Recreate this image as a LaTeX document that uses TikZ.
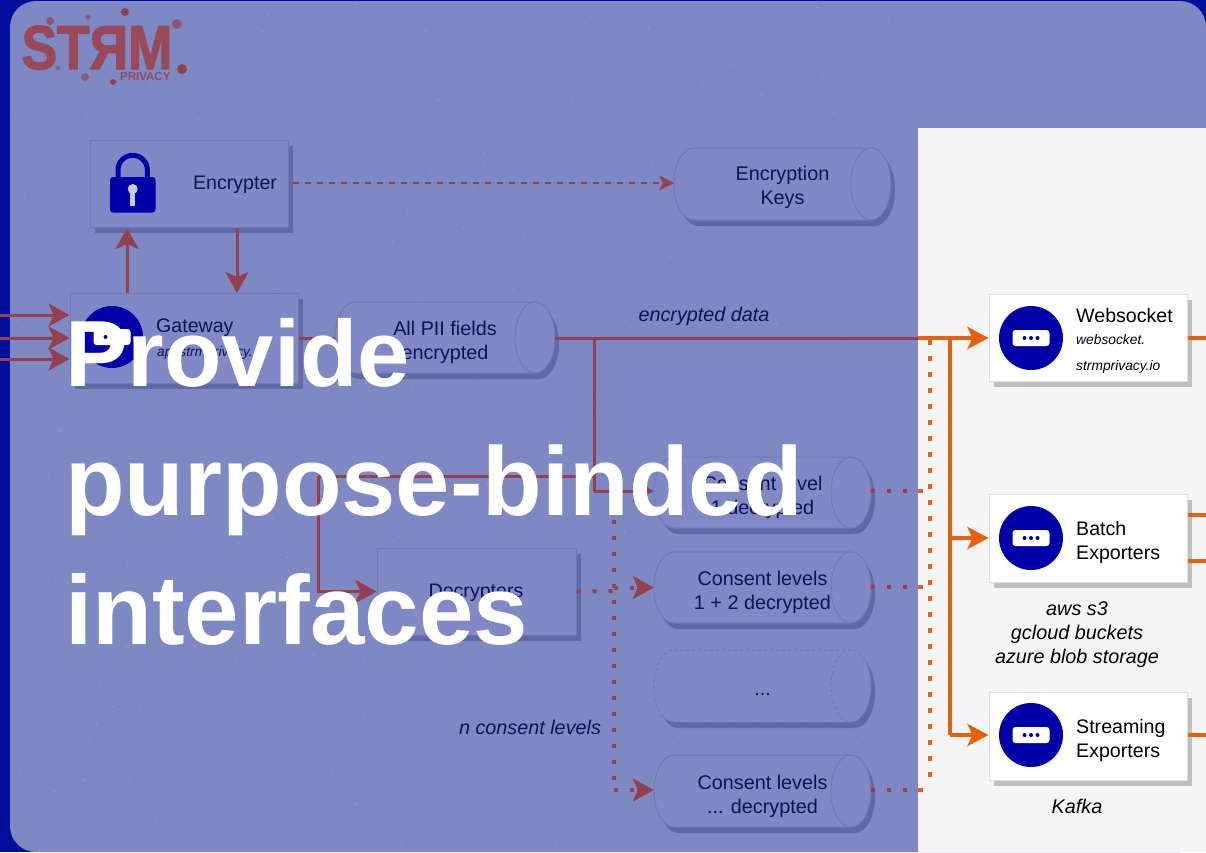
\documentclass[tikz,border=0pt]{standalone}
\usepackage{fontspec}
\setmainfont{Liberation Sans}
\newfontfamily\logofont[FakeBold=2.2]{Liberation Sans}
\usetikzlibrary{arrows.meta,shadows,calc}
\definecolor{bgblue}{HTML}{00109C}
\definecolor{panelblue}{HTML}{7E88C2}
\definecolor{boxblue}{HTML}{8089C6}
\definecolor{edgeblue}{HTML}{7079B8}
\definecolor{shadeblue}{HTML}{6068A8}
\definecolor{navy}{HTML}{0C1458}
\definecolor{wine}{HTML}{94404F}
\definecolor{orangeline}{HTML}{EA5F0E}
\definecolor{paper}{HTML}{F5F5F5}
\definecolor{iconblue}{HTML}{0000A8}
\tikzset{
  dimbox/.style={draw=edgeblue,fill=boxblue,line width=1pt,inner sep=0pt,text=navy,
    general shadow={shadow xshift=4.5pt,shadow yshift=-6pt,fill=shadeblue}},
  lightbox/.style={draw=black!12,fill=white,line width=1pt,inner sep=0pt,
    general shadow={shadow xshift=4.5pt,shadow yshift=-6pt,fill=black!25}},
  storebody/.style={draw=edgeblue,fill=boxblue,line width=1pt},
  storeframe/.style={inner sep=0pt,rectangle},
  storetext/.style={inner sep=0pt,text=navy,align=center,font=\fontsize{19.8}{24}\selectfont},
  lbl/.style={inner sep=0pt,font=\fontsize{19.6}{24}\selectfont,align=left},
  smalllbl/.style={inner sep=0pt,font=\fontsize{13.8}{26}\selectfont\itshape,align=left},
  note/.style={inner sep=0pt,font=\fontsize{19.8}{24}\selectfont\itshape,align=center},
  redline/.style={draw=wine,line width=3pt},
  orangeln/.style={draw=orangeline,line width=4pt},
  redtip/.style={-{Stealth[length=21pt,width=23pt,inset=5pt,fill=wine]}},
  orangetip/.style={-{Stealth[length=21pt,width=22pt,inset=5pt,fill=orangeline]}},
  reddots/.style={draw=wine,line width=4pt,dash pattern=on 4pt off 12pt},
  orangedots/.style={draw=orangeline,line width=4pt,dash pattern=on 5pt off 11pt},
  iconcircle/.style={circle,fill=iconblue,inner sep=0pt},
  pill/.style={rectangle,rounded corners=3pt,fill=white,inner sep=0pt,minimum width=37pt,minimum height=16pt},
  logodot/.style={circle,inner sep=0pt}
}
\newcommand{\svcicon}[4]{%
  \node[iconcircle,minimum size=#4pt] (#1) at (#2,#3) {};
  \node[pill] (#1p) at (#2,#3) {};
  \fill[iconblue] ($(#1p)+(-6.5,0)$) circle (2pt) (#1p) circle (2pt) ($(#1p)+(6.5,0)$) circle (2pt);
}
\newcommand{\stoff}{5}
% name, x1, y1, x2, y2, line style, text
\newcommand{\storage}[7]{%
  \pgfmathsetmacro{\yr}{(#5-#3)/2}
  \pgfmathsetmacro{\xa}{#2+20}
  \pgfmathsetmacro{\xb}{#4-20}
  \pgfmathsetmacro{\xc}{(#2+#4)/2}
  \pgfmathsetmacro{\yc}{(#3+#5)/2}
  \fill[shadeblue,shift={(4,6)}] (\xa,#3) -- (\xb,#3) arc[start angle=90,end angle=-90,x radius=20pt,y radius=\yr pt] -- (\xa,#5) arc[start angle=270,end angle=90,x radius=20pt,y radius=\yr pt] -- cycle;
  \path[storebody,#6] (\xa,#3) -- (\xb,#3) arc[start angle=90,end angle=-90,x radius=20pt,y radius=\yr pt] -- (\xa,#5) arc[start angle=270,end angle=90,x radius=20pt,y radius=\yr pt] -- cycle;
  \draw[draw=edgeblue,line width=1pt,#6] (\xb,#3) arc[start angle=90,end angle=270,x radius=20pt,y radius=\yr pt];
  \node[storeframe,minimum width=#4pt-#2pt,minimum height=#5pt-#3pt] (#1) at (\xc,\yc) {};
  \node[storetext] (#1t) at (\xc,\yc+\stoff) {#7};
}
\begin{document}
\begin{tikzpicture}[x=1pt,y=-1pt]
\useasboundingbox (0,0) rectangle (1206,852);
\fill[bgblue] (0,0) rectangle (1206,852);
\fill[panelblue,rounded corners=26pt] (10,1) rectangle (1206,852);
\fill[paper] (918,128) rectangle (1206,852);
% faint speckle of the starry backdrop
\pgfmathsetseed{7}
\foreach \i in {1,...,420}{
  \pgfmathsetmacro{\sx}{14+rnd*900}\pgfmathsetmacro{\sy}{4+rnd*844}\pgfmathsetmacro{\sr}{0.4+rnd*0.6}
  \fill[white,opacity=0.16] (\sx,\sy) circle (\sr pt);
}
% logo
\node[inner sep=0pt,text=wine!95!white,font=\fontsize{62}{62}\selectfont\logofont\bfseries,xscale=0.86,anchor=base] (logo) at (97,69) {STЯM};
\node[inner sep=0pt,text=wine!85!panelblue,font=\fontsize{11.5}{12}\selectfont\bfseries,anchor=base west] (logosub) at (120,80) {PRIVACY};
\foreach \n/\x/\y/\d/\c in {a/125/12/8/wine,b/50/21/8/wine!70!panelblue,c/88/17/5/wine!60!panelblue,d/177/24/10/wine!70!panelblue,e/182/69/10/wine,f/58/68/5/wine!50!panelblue,g/85/77/8/wine!60!panelblue,h/113/82/6/wine}
  \node[logodot,fill=\c,minimum size=\d pt] (dot\n) at (\x,\y) {};
% nodes on the dim side
\node[dimbox,minimum width=198pt,minimum height=87pt] (enc) at (189,183.5) {};
\node[lbl,text=navy] (enctext) at (235,185) {Encrypter};
\renewcommand{\stoff}{3.5}
\storage{keys}{674}{148}{891}{220}{}{Encryption\\Keys}
\renewcommand{\stoff}{5}
\node[dimbox,minimum width=228pt,minimum height=90pt] (gw) at (184,338) {};
\node[lbl,text=navy,anchor=west] (gwtext) at (156,328) {Gateway};
\node[smalllbl,text=navy,anchor=west] (gwsub) at (157,353) {api.strmprivacy.};
\storage{pii}{335}{302}{555}{373}{}{All PII fields\\encrypted}
\node[dimbox,minimum width=199pt,minimum height=87pt] (dec) at (476.5,591.5) {};
\node[lbl,text=navy] (dectext) at (476,593) {Decrypters};
\storage{c1}{654}{457}{871}{528}{}{Consent level\\1 decrypted}
\storage{c2}{654}{552}{871}{623}{}{Consent levels\\1 + 2 decrypted}
\storage{c3}{654}{650}{871}{722}{dashed}{\strut ...}
\storage{c4}{654}{755}{871}{827}{}{Consent levels\\... decrypted}
\node[note,text=navy] (ltenc) at (704,316) {encrypted data};
\node[note,text=navy] (ltn) at (530,727) {n consent levels};
% lock icon
\fill[iconblue,rounded corners=3pt] (110,177) rectangle (155.5,212.5);
\draw[iconblue,line width=5pt] (118,179) -- (118,170) arc[start angle=180,end angle=0,radius=14.7pt] -- (147.4,179);
\fill[boxblue!45!white] (132.7,189) circle (5pt);
\fill[boxblue!45!white] (130.2,189) rectangle (135.2,206);
% nodes on the light side
\node[lightbox,minimum width=198pt,minimum height=87pt] (ws) at (1088,337.5) {};
\node[lightbox,minimum width=198pt,minimum height=88pt] (batch) at (1088,538) {};
\node[lightbox,minimum width=198pt,minimum height=88pt] (stream) at (1088,736) {};
\svcicon{wsi}{1031}{338}{64}
\svcicon{bi}{1031}{538}{64}
\svcicon{si}{1031}{735}{64}
\svcicon{gi}{112}{337}{62}
\node[lbl,anchor=west] (wst) at (1076,315) {Websocket};
\node[smalllbl,anchor=west] (wss) at (1076,354) {websocket.\\strmprivacy.io};
\node[lbl,anchor=west] (bt) at (1076,542) {Batch\\Exporters};
\node[lbl,anchor=west] (st) at (1076,740) {Streaming\\Exporters};
\node[note] (bn) at (1077,635) {aws s3\\gcloud buckets\\azure blob storage};
\node[note] (kn) at (1077,806) {Kafka};
% free ends and turning points
\coordinate (in1) at (0,315);
\coordinate (in2) at (0,338);
\coordinate (in3) at (0,359);
\coordinate (edge) at (918,338);
\coordinate (trunk) at (594,338);
\coordinate (trunkend) at (594,491);
\coordinate (fork) at (594,476);
\coordinate (turn) at (318,476);
\coordinate (ndown) at (614,520);
\coordinate (nbottom) at (614,790);
\coordinate (nmid) at (614,591);
\coordinate (nmidb) at (614,587.5);
\coordinate (bus) at (950,338);
\coordinate (busend) at (950,735);
\coordinate (dotbus) at (930,340);
\coordinate (dotend) at (930,787);
\coordinate (e1) at (918,491);
\coordinate (e2) at (918,587);
\coordinate (e4) at (918,790);
\coordinate (o1) at (1206,338);
\coordinate (o2) at (1206,515);
\coordinate (o3) at (1206,561);
\coordinate (o4) at (1206,735);
\coordinate (upa) at (127,293);
\coordinate (upb) at (127,228);
\coordinate (dna) at (237,228);
\coordinate (dnb) at (237,293);
\coordinate (dasha) at (293,183);
\coordinate (dashb) at (674,183);
% wine connectors
\draw[draw=wine,line width=1.5pt,dash pattern=on 6pt off 6pt,-{Stealth[length=15pt,width=15pt,inset=4pt,fill=wine]}] (dasha) -- (dashb);
\draw[redline,redtip] (upa) -- (upb);
\draw[redline,redtip] (dna) -- (dnb);
\draw[redline,redtip] (in1) -- (in1 -| gw.west);
\draw[redline,redtip] (in2) -- (in2 -| gw.west);
\draw[redline,redtip] (in3) -- (in3 -| gw.west);
\draw[redline] (gw.east |- in2) -- (pii.west |- in2);
\draw[redline] (pii.east |- edge) -- (edge);
\draw[redline] (trunk) -- (trunkend);
\draw[redline,redtip] (trunkend) -- (c1.west |- trunkend);
\draw[redline] (fork) -- (turn);
\draw[redline,redtip] (turn) |- (dec.west);
\draw[reddots] (dec.east) -- (nmid);
\draw[reddots] (ndown) -- (nbottom);
\draw[reddots,redtip] (nmidb) -- (c2.west);
\draw[reddots,redtip] (nbottom) -- (c4.west |- nbottom);
\draw[reddots] (c1.east |- e1) -- (e1);
\draw[reddots] (c2.east |- e2) -- (e2);
\draw[reddots] (c4.east |- e4) -- (e4);
% orange connectors
\draw[orangeln,orangetip] (edge) -- (ws.west |- edge);
\draw[orangeln] (bus) -- (busend);
\draw[orangeln,orangetip] (bus |- batch) -- (batch.west);
\draw[orangeln,orangetip] (busend) -- (stream.west |- busend);
\draw[orangedots] (dotbus) -- (dotend);
\draw[orangedots] (e1) -- (e1 -| dotbus);
\draw[orangedots] (e2) -- (e2 -| dotbus);
\draw[orangedots] (e4) -- (e4 -| dotbus);
\draw[orangeln] (ws.east |- o1) -- (o1);
\draw[orangeln] (batch.east |- o2) -- (o2);
\draw[orangeln] (batch.east |- o3) -- (o3);
\draw[orangeln] (stream.east |- o4) -- (o4);
% title
\node[inner sep=0pt,anchor=north west,text=white,align=left,font=\fontsize{97}{129}\selectfont\bfseries] (title) at (65,318) {{\fontsize{94}{129}\selectfont Provide}\\{\fontsize{97.6}{129}\selectfont purpose-binded}\\{\fontsize{98}{129}\selectfont interfaces}};
\end{tikzpicture}
\end{document}
